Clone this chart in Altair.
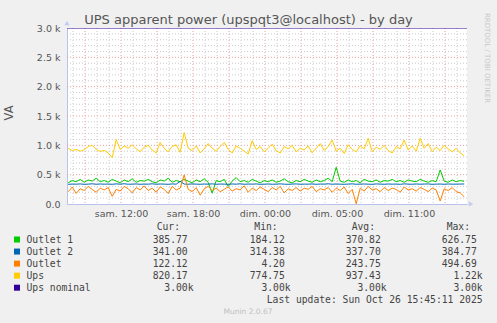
import altair as alt
import pandas as pd
import numpy as np

# ---------------- data ----------------
title_text = "UPS apparent power (upspqt3@localhost) - by day"
y_title = "VA"
x_tick_hours = [0, 6, 12, 18, 24]
x_tick_labels = ["sam. 12:00", "sam. 18:00", "dim. 00:00", "dim. 05:00", "dim. 11:00"]
y_tick_values = [0, 500, 1000, 1500, 2000, 2500, 3000]

series_names = ["Outlet 1", "Outlet 2", "Outlet", "Ups", "Ups nominal"]
series_colors = ["#00CC00", "#0066B3", "#FF8000", "#FFCC00", "#330099"]

outlet1 = [360, 400, 380, 420, 370, 410, 390, 440, 380, 400,
           370, 420, 390, 360, 410, 380, 430, 370, 400, 390,
           420, 380, 360, 410, 390, 440, 370, 400, 380, 420,
           390, 360, 410, 380, 430, 370, 184, 400, 380, 420,
           300, 390, 450, 380, 400, 370, 420, 390, 360, 400,
           380, 410, 370, 390, 430, 380, 360, 400, 380, 420,
           390, 370, 410, 380, 400, 440, 380, 626, 390, 370,
           410, 380, 400, 360, 420, 390, 380, 410, 370, 400,
           390, 420, 380, 400, 370, 410, 390, 380, 420, 390,
           370, 400, 380, 580, 390, 370, 410, 380, 400, 386]
outlet2 = [335, 340, 338, 342, 336, 339, 344, 337, 341, 338,
           340, 336, 343, 338, 345, 337, 339, 342, 336, 340,
           338, 344, 337, 341, 339, 336, 342, 338, 385, 340,
           337, 342, 339, 336, 341, 338, 343, 337, 340, 339,
           336, 341, 338, 344, 337, 340, 339, 342, 336, 338,
           341, 337, 339, 343, 338, 336, 340, 342, 337, 339,
           338, 342, 336, 340, 339, 344, 337, 341, 338, 336,
           340, 343, 337, 339, 341, 338, 336, 342, 339, 337,
           341, 338, 340, 336, 343, 339, 337, 341, 338, 340,
           342, 336, 339, 340, 337, 341, 338, 339, 340, 341]
outlet = [210, 290, 180, 260, 230, 300, 250, 200, 270, 240,
          280, 130, 250, 220, 300, 260, 190, 280, 240, 310,
          230, 270, 200, 290, 250, 180, 300, 240, 270, 495,
          250, 210, 280, 150, 260, 300, 230, 270, 210, 250,
          290, 220, 260, 240, 310, 200, 270, 230, 290, 250,
          210, 280, 240, 300, 190, 260, 230, 280, 220, 270,
          250, 300, 210, 260, 240, 280, 200, 270, 230, 290,
          180, 250, 4, 270, 220, 300, 240, 260, 210, 280,
          230, 270, 250, 200, 290, 240, 260, 220, 280, 250,
          210, 270, 240, 50, 260, 230, 280, 210, 190, 122]
ups = [950, 910, 930, 900, 925, 980, 1000, 930, 895, 915,
       870, 790, 1100, 930, 990, 950, 1010, 940, 890, 970,
       1000, 920, 870, 1050, 950, 890, 980, 1010, 880, 1220,
       950, 910, 990, 870, 940, 1030, 950, 900, 980, 1050,
       930, 870, 990, 950, 900, 850, 1080, 930, 980, 890,
       950, 1020, 910, 870, 980, 940, 1000, 890, 950, 920,
       990, 870, 950, 1030, 910, 980, 1090, 900, 950, 860,
       1010, 930, 890, 990, 940, 1120, 890, 970, 930, 1000,
       910, 870, 980, 940, 1090, 920, 990, 900, 1120, 950,
       1030, 890, 970, 910, 1000, 940, 890, 950, 870, 820]
ups_nominal_value = 3000

legend_cur = ["385.77", "341.00", "122.12", "820.17", "3.00k"]
legend_min = ["184.12", "314.38", "4.20", "774.75", "3.00k"]
legend_avg = ["370.82", "337.70", "243.75", "937.43", "3.00k"]
legend_max = ["626.75", "384.77", "494.69", "1.22k", "3.00k"]
legend_headers = ["Cur:", "Min:", "Avg:", "Max:"]
last_update = "Last update: Sun Oct 26 15:45:11 2025"
munin_version = "Munin 2.0.67"
rrd_credit = "RRDTOOL / TOBI OETIKER"

# ---------------- layout ----------------
W, H = 400, 176
PL, PT = 67, 28
TOTAL_W, TOTAL_H = 497, 323
x_domain = [-4.5, 28.8333]

n = len(ups)
hours = -4.4 + np.arange(n) / 3.0

xs = alt.Scale(domain=x_domain, nice=False, zero=False)
ys = alt.Scale(domain=[0, 3000], nice=False)

label_expr_x = "[" + ",".join("'%s'" % s for s in x_tick_labels) + "][round(datum.value / 6)]"
x_axis = alt.Axis(values=x_tick_hours, labelExpr=label_expr_x, title=None, grid=False,
                  ticks=False, domain=True, domainColor="#b8c0ec", labelFont="DejaVu Sans",
                  labelFontSize=9.5, labelColor="#555555", labelPadding=4)
y_axis = alt.Axis(values=y_tick_values,
                  labelExpr="datum.value == 0 ? '0.0' : format(datum.value / 1000, '.1f') + ' k'",
                  title=None, grid=False, ticks=False, domain=True, domainColor="#b8c0ec",
                  labelFont="DejaVu Sans", labelFontSize=9.5, labelColor="#555555", labelPadding=7)

X = alt.X("h:Q", scale=xs, axis=x_axis)
Y = alt.Y("v:Q", scale=ys, axis=y_axis)

# grid
minor_h = [h for h in np.arange(-4, 29, 1) if h % 3 != 0]
major_h = [h for h in np.arange(-3, 29, 3)]
minor_v = [v for v in np.arange(100, 3000, 100) if v % 500 != 0]
major_v = [v for v in np.arange(500, 3000, 500)]

g_minor_x = alt.Chart(pd.DataFrame({"h": minor_h})).mark_rule(
    color="#cccccc", strokeDash=[1, 2], strokeWidth=1).encode(x=X)
g_minor_y = alt.Chart(pd.DataFrame({"v": minor_v})).mark_rule(
    color="#cccccc", strokeDash=[1, 2], strokeWidth=1).encode(y=Y)
g_major_x = alt.Chart(pd.DataFrame({"h": major_h})).mark_rule(
    color="#e8a0a0", strokeDash=[1, 2], strokeWidth=1).encode(x=X)
g_major_y = alt.Chart(pd.DataFrame({"v": major_v})).mark_rule(
    color="#e8a0a0", strokeDash=[1, 2], strokeWidth=1).encode(y=Y)

series_values = [outlet1, outlet2, outlet, ups, [ups_nominal_value] * n]
line_layers = []
for name, color, vals in zip(series_names, series_colors, series_values):
    df = pd.DataFrame({"h": hours, "v": vals})
    if name == "Ups nominal":
        df = pd.DataFrame({"h": x_domain, "v": [ups_nominal_value, ups_nominal_value]})
    line_layers.append(
        alt.Chart(df).mark_line(color=color, strokeWidth=1, clip=True).encode(x=X, y=Y)
    )

# axis arrows
arrow_df = pd.DataFrame({"px": [0], "py": [-5]})
arrow_up = alt.Chart(arrow_df).mark_point(shape="triangle-up", filled=True, size=28,
                                          color="#c4cbf0", opacity=1).encode(
    x=alt.X("px:Q", scale=None), y=alt.Y("py:Q", scale=None))
arrow_right = alt.Chart(pd.DataFrame({"px": [W + 4], "py": [H]})).mark_point(
    shape="triangle-right", filled=True, size=28, color="#c4cbf0", opacity=1).encode(
    x=alt.X("px:Q", scale=None), y=alt.Y("py:Q", scale=None))

# texts
def ident(df):
    return dict(x=alt.X("px:Q", scale=None), y=alt.Y("py:Q", scale=None), text="t:N")

title_layer = alt.Chart(pd.DataFrame({"px": [248.5 - PL], "py": [24 - PT], "t": [title_text]})).mark_text(
    font="DejaVu Sans", fontSize=13, color="#555555", align="center", baseline="alphabetic").encode(**ident(None))
ytitle_layer = alt.Chart(pd.DataFrame({"px": [10 - PL], "py": [113 - PT], "t": [y_title]})).mark_text(
    font="DejaVu Sans", fontSize=11.5, color="#555555", align="center", baseline="middle", angle=270).encode(**ident(None))
credit_layer = alt.Chart(pd.DataFrame({"px": [487 - PL], "py": [58 - PT], "t": [rrd_credit]})).mark_text(
    font="DejaVu Sans", fontSize=7, color="#c8c8c8", align="center", baseline="middle", angle=90).encode(**ident(None))
munin_layer = alt.Chart(pd.DataFrame({"px": [248 - PL], "py": [312 - PT], "t": [munin_version]})).mark_text(
    font="DejaVu Sans", fontSize=7.5, color="#c0c0c0", align="center", baseline="middle").encode(**ident(None))

row0 = 239.5
row_step = 12.05
field_right = [193.5, 290.6, 386.6, 482.6]
header_right = [180.0, 277.7, 375.0, 470.0]
char_w = 5.85

names_rows, val_rows = [], []
for i, name in enumerate(series_names):
    yy = row0 + i * row_step - PT
    names_rows.append({"px": 26.5 - PL, "py": yy, "t": name, "c": name})
    for j, col in enumerate([legend_cur, legend_min, legend_avg, legend_max]):
        s = col[i]
        xr = field_right[j] - (0 if s.endswith("k") else char_w)
        val_rows.append({"px": xr - PL, "py": yy, "t": s})
for j, hdr in enumerate(legend_headers):
    val_rows.append({"px": header_right[j] - PL, "py": row0 - row_step - PT, "t": hdr})
val_rows.append({"px": 482.6 - PL, "py": row0 + 5 * row_step - PT, "t": last_update})

mono = dict(font="DejaVu Sans Mono", fontSize=9.7, color="#444444", baseline="middle")
legend_names = alt.Chart(pd.DataFrame(names_rows)).mark_text(align="left", **mono).encode(**ident(None))
legend_vals = alt.Chart(pd.DataFrame(val_rows)).mark_text(align="right", **mono).encode(**ident(None))
legend_boxes = alt.Chart(pd.DataFrame(names_rows)).mark_square(size=36, opacity=1).encode(
    x=alt.X("px:Q", scale=None), y=alt.Y("py:Q", scale=None),
    color=alt.Color("c:N", scale=alt.Scale(domain=series_names, range=series_colors), legend=None),
).transform_calculate(px="%f" % (17 - PL))

chart = alt.layer(
    g_minor_x, g_minor_y, g_major_x, g_major_y, *line_layers,
    arrow_up, arrow_right, title_layer, ytitle_layer, credit_layer, munin_layer,
    legend_names, legend_vals, legend_boxes,
).properties(
    width=W, height=H,
    autosize=alt.AutoSizeParams(type="none"),
    padding={"left": PL, "top": PT, "right": TOTAL_W - PL - W, "bottom": TOTAL_H - PT - H},
    background="#F0F0F0",
).configure_view(fill="white", stroke=None)

chart.save("out.html", embed_options={"renderer": "svg", "actions": False})
